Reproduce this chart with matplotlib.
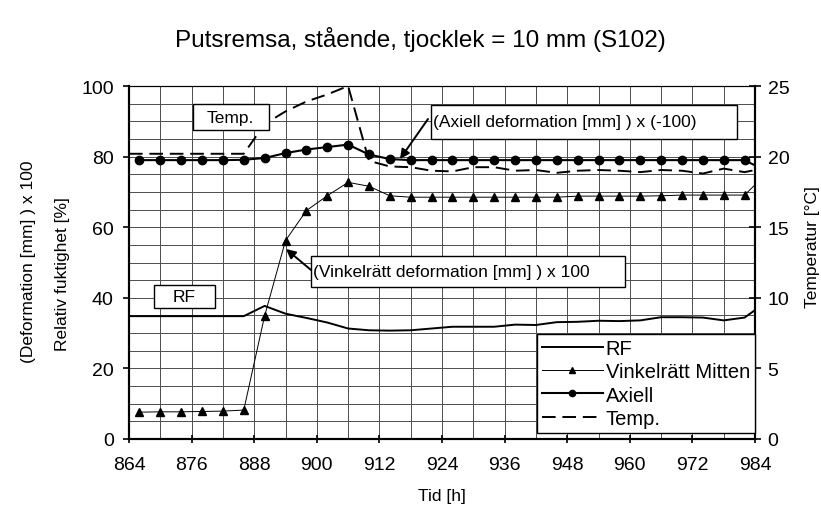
import matplotlib
matplotlib.use("Agg")
import matplotlib.pyplot as plt
from matplotlib.patches import Rectangle
from matplotlib.lines import Line2D
import numpy as np

plt.rcParams['font.family'] = ['Liberation Sans', 'DejaVu Sans']

# ---------------- data ----------------
title = "Putsremsa, stående, tjocklek = 10 mm (S102)"
x_ticks = [864, 876, 888, 900, 912, 924, 936, 948, 960, 972, 984]

# deformation series, measured every 4 h
def_hours = [866, 870, 874, 878, 882, 886, 890, 894, 898, 902, 906, 910, 914, 918,
             922, 926, 930, 934, 938, 942, 946, 950, 954, 958, 962, 966, 970, 974,
             978, 982, 984]
vinkelratt = [7.6, 7.7, 7.7, 7.8, 7.9, 8.2, 34.9, 56.2, 64.7, 68.9, 72.7, 71.6, 68.9, 68.5,
              68.5, 68.5, 68.5, 68.5, 68.5, 68.5, 68.5, 68.8, 68.8, 68.8, 68.8, 68.9, 69.1, 69.1,
              69.1, 69.1, 72.0]
axiell = [79.0, 79.0, 79.0, 79.0, 79.0, 79.1, 79.6, 81.0, 82.0, 82.7, 83.4, 80.6, 79.3, 79.0,
          79.0, 79.0, 79.0, 79.0, 79.0, 79.0, 79.0, 79.0, 79.0, 79.0, 79.0, 79.0, 79.0, 79.0,
          79.0, 79.0, 77.5]

# RF (relative humidity, %)
rf_hours = [864, 886, 890, 894, 898, 902, 906, 910, 914, 918, 922, 926, 930, 934, 938,
            942, 946, 950, 954, 958, 962, 966, 970, 974, 978, 982, 984]
rf = [34.8, 34.8, 37.7, 35.5, 34.3, 33.0, 31.3, 30.8, 30.7, 30.8, 31.3, 31.8, 31.8, 31.8, 32.4,
      32.3, 33.1, 33.2, 33.5, 33.4, 33.6, 34.5, 34.5, 34.4, 33.6, 34.4, 36.5]

# Temperature (°C)
temp_hours = [864, 886, 890, 894, 898, 902, 906, 910, 914, 918, 922, 926, 930, 934, 938,
              942, 946, 950, 954, 958, 962, 966, 970, 974, 978, 982, 984]
temp = [20.2, 20.2, 22.3, 23.2, 23.9, 24.4, 25.0, 19.7, 19.3, 19.25, 19.0, 18.95, 19.25, 19.25, 19.0,
        19.05, 18.85, 19.0, 19.05, 19.0, 18.9, 19.05, 19.0, 18.8, 19.15, 18.9, 19.05]

# ---------------- figure ----------------
W, H = 821, 506
fig = plt.figure(figsize=(W / 100, H / 100), dpi=100)
L, R, T, B = 129, 755, 87, 440
ax = fig.add_axes([L / W, 1 - B / H, (R - L) / W, (B - T) / H])
ax2 = ax.twinx()

ax.set_xlim(864, 984)
ax.set_ylim(0, 100)
ax2.set_ylim(0, 25)

ax.set_xticks(x_ticks)
ax.set_xticks(np.arange(864, 985, 6), minor=True)
ax.set_yticks(np.arange(0, 101, 20))
ax.set_yticks(np.arange(0, 101, 5), minor=True)
ax2.set_yticks(np.arange(0, 26, 5))

ax.grid(True, which='both', color='0.3', linewidth=0.7)
ax.set_axisbelow(True)

ax.tick_params(axis='x', which='major', direction='inout', length=6, width=1.2, labelsize=14, pad=9)
ax.tick_params(axis='y', which='major', direction='out', length=4, width=1.2, labelsize=14, pad=7)
ax.tick_params(which='minor', length=0)
ax2.tick_params(axis='y', direction='inout', length=8, width=1.2, labelsize=14, pad=5)
for a in (ax, ax2):
    for s in a.spines.values():
        s.set_linewidth(0.8)
    a.spines['left'].set_linewidth(1.5)
    a.spines['bottom'].set_linewidth(1.5)
    a.spines['right'].set_linewidth(1.5)

temp_dash = (0, (7, 3.5))

# series
ax.plot(rf_hours, rf, color='black', linewidth=1.4, label='RF')
ax.plot(def_hours[:-1], vinkelratt[:-1], color='black', linewidth=0.7, marker='^',
        markersize=6, label='Vinkelrätt Mitten')
ax.plot(def_hours[-2:], vinkelratt[-2:], color='black', linewidth=0.7)
ax.plot(def_hours[:-1], axiell[:-1], color='black', linewidth=1.5, marker='o',
        markersize=6, label='Axiell')
ax.plot(def_hours[-2:], axiell[-2:], color='black', linewidth=1.5)
ax2.plot(temp_hours, temp, color='black', linewidth=1.4, linestyle=temp_dash, label='Temp.')

# annotation boxes (pixel-measured positions converted to data coords)
def px2data(px, py):
    return 864 + (px - L) / (R - L) * 120, (B - py) / (B - T) * 100

def box(x0, y0, x1, y1, text, tx, ha='left'):
    (dx0, dy0), (dx1, dy1) = px2data(x0, y1), px2data(x1, y0)
    ax2.add_patch(Rectangle((dx0, dy0), dx1 - dx0, dy1 - dy0, transform=ax.transData,
                            facecolor='white', edgecolor='black', linewidth=1.0, zorder=5))
    txd, tyd = px2data(tx, (y0 + y1) / 2)
    ax2.text(txd, tyd, text, transform=ax.transData, ha=ha, va='center',
             fontsize=12.5, zorder=6)

box(193, 105, 269, 131, "Temp.", 207)
box(154, 286, 215, 309, "RF", 184.5, ha='center')
box(431, 106, 737, 140, "(Axiell deformation [mm] ) x (-100)", 433)
box(311, 257, 625, 288, "(Vinkelrätt deformation [mm] ) x 100", 313)

def arrow(tail, head):
    ax2.annotate('', xy=px2data(*head), xytext=px2data(*tail),
                 xycoords=ax.transData, textcoords=ax.transData,
                 arrowprops=dict(arrowstyle='-|>', color='black', lw=1.4,
                                 mutation_scale=14, shrinkA=0, shrinkB=0), zorder=7)

arrow((428, 120), (400, 160))
arrow((311, 271), (286, 250))

# legend
handles = [
    Line2D([], [], color='black', linewidth=1.4),
    Line2D([], [], color='black', linewidth=0.7, marker='^', markersize=5),
    Line2D([], [], color='black', linewidth=1.5, marker='o', markersize=4.5),
    Line2D([], [], color='black', linewidth=1.4, linestyle=temp_dash),
]
labels = ['RF', 'Vinkelrätt Mitten', 'Axiell', 'Temp.']
leg = ax2.legend(handles, labels, loc='lower right', bbox_to_anchor=(1.0, 0.017),
                 borderaxespad=0, fontsize=14.5, frameon=True, fancybox=False,
                 edgecolor='black', framealpha=1, handlelength=3.0, handletextpad=0.15,
                 labelspacing=0.22, borderpad=0.25)
leg.get_frame().set_linewidth(1.0)
leg.set_zorder(10)

# labels
fig.text(420 / W, 1 - 40 / H, title, ha='center', va='center', fontsize=17.5)
fig.text(442 / W, 1 - 497 / H, "Tid [h]", ha='center', va='center', fontsize=12.5)
fig.text(28 / W, 1 - 262 / H, "(Deformation [mm] ) x 100", rotation=90, ha='center',
         va='center', fontsize=12.5)
fig.text(63 / W, 1 - 274 / H, "Relativ fuktighet [%]", rotation=90, ha='center',
         va='center', fontsize=12.5)
fig.text(812 / W, 1 - 247 / H, "Temperatur [°C]", rotation=90, ha='center',
         va='center', fontsize=12.5)

fig.savefig("out.png", dpi=100)
